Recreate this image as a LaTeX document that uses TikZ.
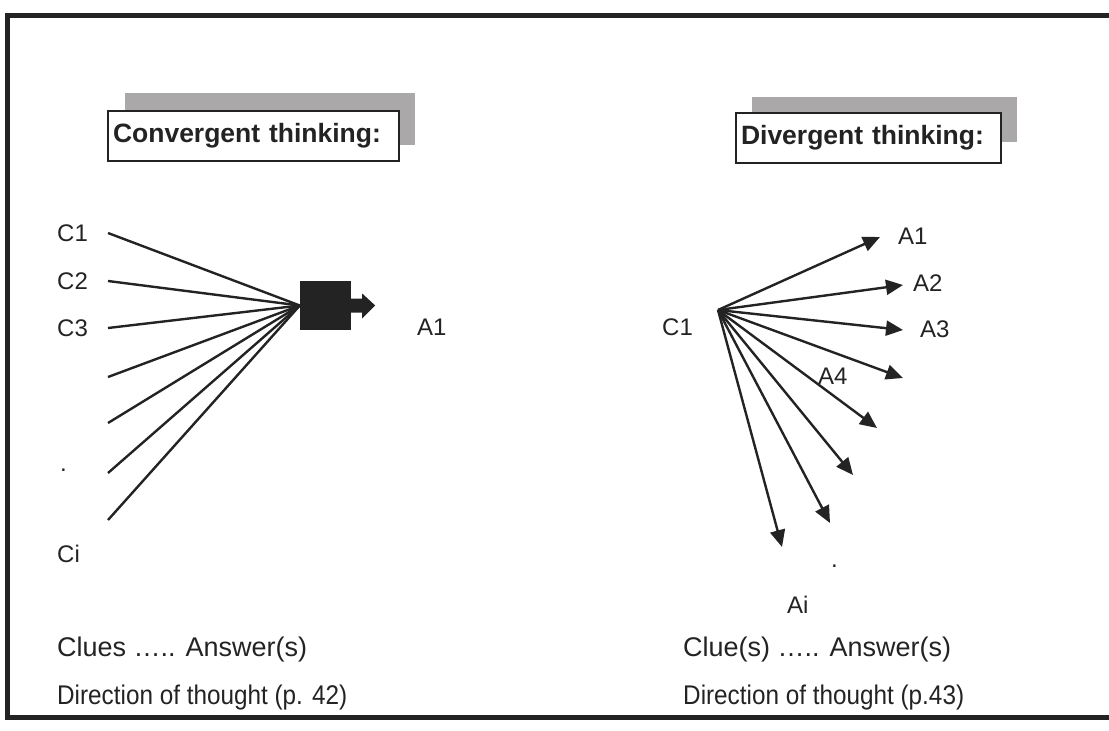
\documentclass[tikz,border=0pt]{standalone}
\usepackage{fontspec}
\setmainfont{Liberation Sans}
\newfontfamily\narrowsans[FakeStretch=0.9]{Liberation Sans}
\usetikzlibrary{arrows.meta}
\definecolor{shadow}{RGB}{170,168,168}
\definecolor{ink}{RGB}{35,35,35}
\tikzset{
  lbl/.style={anchor=west, inner sep=0pt, font=\fontsize{24}{26}\selectfont, text=ink},
  foot/.style={anchor=west, inner sep=0pt, font=\fontsize{27}{30}\selectfont, text=ink},
  footn/.style={anchor=west, inner sep=0pt, font=\narrowsans\fontsize{27}{30}\selectfont, text=ink},
  titlebox/.style={anchor=north west, draw=ink, line width=2pt, fill=white, inner xsep=5pt, inner ysep=0pt,
    minimum height=50pt, align=left, font=\bfseries\fontsize{26.5}{30}\selectfont, text=ink},
  conv/.style={draw=ink, line width=2.4pt},
  div/.style={draw=ink, line width=2.4pt, -{Triangle[length=17pt,width=15pt]}},
}
\begin{document}
\begin{tikzpicture}[x=1pt,y=-1pt]
\useasboundingbox (0,0) rectangle (1109,731);
% frame
\draw[ink, line width=5pt] (1109,15) -- (7,15) -- (7,717) -- (1109,717);
% title shadows
\fill[shadow] (125,93) rectangle (415,145);
\fill[shadow] (752,97) rectangle (1017,142);
% title boxes
\node[titlebox, text width=281pt] (ct) at (107,110) {Convergent thinking:};
\node[titlebox, text width=255pt] (dt) at (735,112) {Divergent thinking:};

% ---- convergent ----
\node[lbl] (c1) at (57,233) {C1};
\node[lbl] (c2) at (57,281) {C2};
\node[lbl] (c3) at (57,328) {C3};
\node[lbl] (cdot) at (60,470) {.};
\node[lbl] (ci) at (57,554) {Ci};
\coordinate (l1) at (108,233);
\coordinate (l2) at (108,281);
\coordinate (l3) at (108,328);
\coordinate (l4) at (108,377);
\coordinate (l5) at (108,423);
\coordinate (l6) at (108,473);
\coordinate (l7) at (108,520);
\node[fill=ink, minimum width=51pt, minimum height=49pt, inner sep=0pt] (sq) at (325.5,305.5) {};
\coordinate (cv) at (sq.west);
\foreach \p in {l1,l2,l3,l4,l5,l6,l7} \draw[conv] (\p) -- (cv);
\fill[ink] (sq.east) ++(0,-7) -- ++(11,0) -- ++(0,-5) -- ++(13,12) -- ++(-13,13) -- ++(0,-6) -- ++(-11,0) -- cycle;
\node[lbl] (a1c) at (417,327) {A1};

% ---- divergent ----
\node[lbl] (c1d) at (662,327) {C1};
\coordinate (o) at (718,310);
\coordinate (t1) at (880,237);
\coordinate (t2) at (903,285);
\coordinate (t3) at (903,330);
\coordinate (t4) at (903,378);
\coordinate (t5) at (877,428);
\coordinate (t6) at (853,475);
\coordinate (t7) at (830,523);
\coordinate (t8) at (782,547);
\foreach \t in {t1,t2,t3,t4,t5,t6,t7,t8} \draw[div] (o) -- (\t);
\node[lbl] (a1) at (898,236) {A1};
\node[lbl] (a2) at (913,283) {A2};
\node[lbl] (a3) at (920,329) {A3};
\node[lbl] (a4) at (818,376) {A4};
\node[lbl] (adot) at (831,566) {.};
\node[lbl] (ai) at (787,605) {Ai};

% ---- footers ----
\node[foot] (f1) at (57,650) {Clues ….. Answer(s)};
\node[footn] (f2) at (57,698) {Direction of thought (p. 42)};
\node[foot] (f3) at (683,650) {Clue(s) ….. Answer(s)};
\node[footn] (f4) at (683,698) {Direction of thought (p.43)};
\end{tikzpicture}
\end{document}
